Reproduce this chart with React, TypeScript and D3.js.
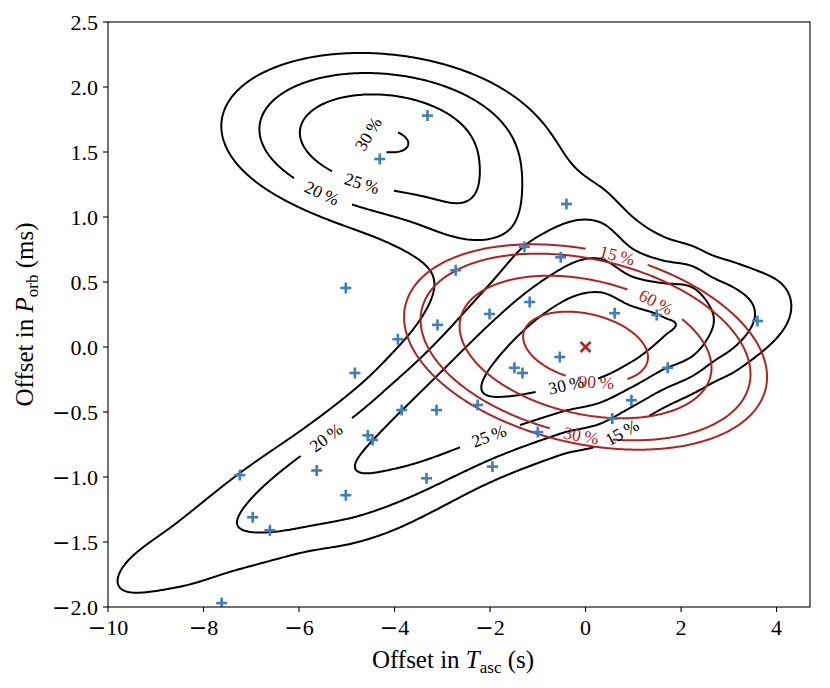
import React, { useMemo } from "react";
import * as d3 from "d3";

// ---------------- data ----------------
const pointsX = [-3.31, -4.31, -0.4, -1.28, -0.52, -2.72, -5.02, -1.17, -2.01, 0.61, 1.49, 3.6, -3.1, -3.93, -0.54, -4.83, -1.49, -1.32, 1.72, 0.96, -3.85, -3.12, -2.26, -1.0, -4.56, -4.46, -1.95, -5.63, -3.33, -5.02, -7.24, -6.97, -6.61, -7.62, 0.56];
const pointsY = [1.78, 1.446, 1.1, 0.77, 0.69, 0.59, 0.454, 0.346, 0.254, 0.26, 0.246, 0.2, 0.17, 0.06, -0.077, -0.2, -0.16, -0.2, -0.16, -0.41, -0.485, -0.485, -0.446, -0.654, -0.68, -0.715, -0.92, -0.95, -1.01, -1.14, -0.985, -1.31, -1.41, -1.97, -0.55];

const xTicks = [-10, -8, -6, -4, -2, 0, 2, 4];
const yTicks = [-2.0, -1.5, -1.0, -0.5, 0.0, 0.5, 1.0, 1.5, 2.0, 2.5];
const xDomain = [-10, 4.7];
const yDomain = [-2.0, 2.5];

// black density: levels (%)
const blackLevels = [15, 20, 25, 30];
// upper blob and bridges: gaussian components
const blobCx = [-4.2, -3.1, -2.4, 0.6];
const blobCy = [1.6, 0.6, 1.05, 0.95];
const blobSx = [2.9, 1.8, 0.7, 0.9];
const blobSy = [0.56, 0.4, 0.22, 0.25];
const blobRho = [-0.15, 0, 0, 0];
const blobAmp = [30.15, 4.3, 3.5, 2.5];
// lower ridge profile
const ridgeX = [-11.5, -9.8, -8.5, -7.3, -6.0, -4.83, -3.9, -2.0, -0.5, 0.3, 1.0, 1.61, 2.18, 2.66, 3.1, 3.53, 4.3, 5.2];
const ridgePeak = [7, 15, 17.6, 20, 23.2, 25, 26.4, 30, 32.6, 33, 31.5, 30, 29, 25, 22.5, 20, 15, 7];
const ridgeMid = [-2.1, -1.8, -1.59, -1.35, -1.12, -0.92, -0.72, -0.3, -0.03, 0.05, 0.08, 0.14, 0.18, 0.2, 0.22, 0.25, 0.31, 0.35];
const ridgeUpperWidth = [0.38, 0.4, 0.45, 0.48, 0.5, 0.58, 0.62, 0.6, 0.62, 0.62, 0.56, 0.51, 0.48, 0.47, 0.46, 0.44, 0.42, 0.4];
const ridgeLowerWidth = [0.38, 0.4, 0.45, 0.48, 0.5, 0.58, 0.63, 0.63, 0.64, 0.64, 0.56, 0.52, 0.48, 0.47, 0.46, 0.44, 0.42, 0.4];

// black contour labels: level and approximate location
const blackLabelLevel = [30, 25, 20, 20, 25, 30, 15];
const blackLabelX = [-4.62, -4.67, -5.56, -5.5, -2.0, -0.4, 0.67];
const blackLabelY = [1.67, 1.26, 1.17, -0.66, -0.715, -0.28, -0.6];

// red ellipses (centered on origin)
const redCenter = [0, 0];
const redSigmaX = 3.8;
const redSigmaY = 0.79;
const redRho = -0.291;
const redLevels = [15, 30, 60, 90];
const redRadius = [1.0, 0.909, 0.694, 0.344];
const redLabelLevel = [15, 60, 30, 90];
const redLabelX = [0.67, 1.49, -0.08, 0.23];
const redLabelY = [0.73, 0.36, -0.68, -0.27];

// ---------------- layout ----------------
const W = 830, H = 688;
const L = 108, R = 810, T = 22, B = 607;
const FONT = "'Liberation Serif', 'DejaVu Serif', serif";
const TICK_FS = 22;
const AXLABEL_FS = 25;
const LABEL_FS = 17.5;
const BLUE = "#3d7ebc";
const RED = "#b22222";

type Pt = [number, number];

function hermite(xs: number[], ys: number[]) {
  const n = xs.length;
  const m = ys.map((_, i) => {
    if (i === 0) return (ys[1] - ys[0]) / (xs[1] - xs[0]);
    if (i === n - 1) return (ys[n - 1] - ys[n - 2]) / (xs[n - 1] - xs[n - 2]);
    return (ys[i + 1] - ys[i - 1]) / (xs[i + 1] - xs[i - 1]);
  });
  return (x: number) => {
    if (x <= xs[0]) return ys[0] + m[0] * (x - xs[0]);
    if (x >= xs[n - 1]) return ys[n - 1] + m[n - 1] * (x - xs[n - 1]);
    const i = Math.min(n - 2, d3.bisectRight(xs, x) - 1);
    const h = xs[i + 1] - xs[i];
    const t = (x - xs[i]) / h, t2 = t * t, t3 = t2 * t;
    return (2 * t3 - 3 * t2 + 1) * ys[i] + (t3 - 2 * t2 + t) * h * m[i] + (-2 * t3 + 3 * t2) * ys[i + 1] + (t3 - t2) * h * m[i + 1];
  };
}

const peakF = hermite(ridgeX, ridgePeak);
const midF = hermite(ridgeX, ridgeMid);
const upF = hermite(ridgeX, ridgeUpperWidth);
const loF = hermite(ridgeX, ridgeLowerWidth);

function density(xd: number, yd: number) {
  let v = 0;
  for (let k = 0; k < blobAmp.length; k++) {
    const u = (xd - blobCx[k]) / blobSx[k];
    const w = (yd - blobCy[k]) / blobSy[k];
    const r = blobRho[k];
    const q = (u * u - 2 * r * u * w + w * w) / (1 - r * r);
    v += blobAmp[k] * Math.exp(-q / 2);
  }
  const P = Math.max(0, peakF(xd));
  const dy = yd - midF(xd);
  const s = Math.max(0.1, dy > 0 ? upF(xd) : loF(xd));
  v += P * Math.exp(-(dy * dy) / (2 * s * s));
  return v;
}

function fmtLabel(v: number) {
  return `${v}\u2009%`;
}

function labelHalf(text: string) {
  return (text.length - 1) * LABEL_FS * 0.5 * 0.95 + 6;
}

type LabelOut = { x: number; y: number; angle: number; text: string };

function cutRings(rings: Pt[][], labels: { px: number; py: number; text: string }[]) {
  const assign: { ring: number; idx: number; half: number; text: string }[] = [];
  labels.forEach((lb) => {
    let best = Infinity, br = -1, bi = -1;
    rings.forEach((ring, r) => {
      ring.forEach((p, i) => {
        const d = (p[0] - lb.px) ** 2 + (p[1] - lb.py) ** 2;
        if (d < best) { best = d; br = r; bi = i; }
      });
    });
    if (br >= 0) assign.push({ ring: br, idx: bi, half: labelHalf(lb.text), text: lb.text });
  });
  const paths: Pt[][] = [];
  const texts: LabelOut[] = [];
  rings.forEach((ring0, r) => {
    let ring = ring0.slice();
    const first = ring[0], last = ring[ring.length - 1];
    if (ring.length > 1 && first[0] === last[0] && first[1] === last[1]) ring = ring.slice(0, -1);
    const n = ring.length;
    const s: number[] = [0];
    for (let i = 1; i < n; i++) s.push(s[i - 1] + Math.hypot(ring[i][0] - ring[i - 1][0], ring[i][1] - ring[i - 1][1]));
    const total = s[n - 1] + Math.hypot(ring[0][0] - ring[n - 1][0], ring[0][1] - ring[n - 1][1]);
    const mine = assign.filter((a) => a.ring === r);
    if (mine.length === 0) {
      paths.push([...ring, ring[0]]);
      return;
    }
    const pointAt = (arc: number): Pt => {
      const a = ((arc % total) + total) % total;
      let i = d3.bisectRight(s, a) - 1;
      if (i < 0) i = 0;
      const j = (i + 1) % n;
      const segLen = (i + 1 < n ? s[i + 1] : total) - s[i];
      const t = segLen > 0 ? (a - s[i]) / segLen : 0;
      return [ring[i][0] + (ring[j][0] - ring[i][0]) * t, ring[i][1] + (ring[j][1] - ring[i][1]) * t];
    };
    mine.forEach((a) => {
      const s0 = s[a.idx];
      const p1 = pointAt(s0 - a.half), p2 = pointAt(s0 + a.half);
      let ang = (Math.atan2(p2[1] - p1[1], p2[0] - p1[0]) * 180) / Math.PI;
      if (ang > 90) ang -= 180;
      if (ang < -90) ang += 180;
      const c = ring[a.idx];
      texts.push({ x: c[0], y: c[1], angle: ang, text: a.text });
    });
    const removed = (i: number) =>
      mine.some((a) => {
        const d = Math.abs(s[i] - s[a.idx]);
        return Math.min(d, total - d) < a.half;
      });
    const segs: Pt[][] = [];
    let cur: Pt[] = [];
    for (let i = 0; i < n; i++) {
      if (removed(i)) {
        if (cur.length) segs.push(cur);
        cur = [];
      } else cur.push(ring[i]);
    }
    if (cur.length) segs.push(cur);
    if (segs.length > 1 && !removed(0) && !removed(n - 1)) {
      const lastSeg = segs.pop()!;
      segs[0] = [...lastSeg, ...segs[0]];
    }
    segs.forEach((sg) => { if (sg.length > 1) paths.push(sg); });
  });
  return { paths, texts };
}

function compute() {
  const xs = d3.scaleLinear().domain(xDomain).range([L, R]);
  const ys = d3.scaleLinear().domain(yDomain).range([B, T]);
  const step = 2;
  const x0 = L - 10, y0 = T - 10;
  const nx = Math.ceil((R - L + 20) / step) + 1;
  const ny = Math.ceil((B - T + 20) / step) + 1;
  const values = new Float64Array(nx * ny);
  for (let j = 0; j < ny; j++) {
    const yd = ys.invert(y0 + j * step);
    for (let i = 0; i < nx; i++) {
      values[j * nx + i] = density(xs.invert(x0 + i * step), yd);
    }
  }
  const gen = d3.contours().size([nx, ny]).thresholds(blackLevels);
  const polys = gen(Array.from(values));
  const blackPaths: Pt[][] = [];
  const blackTexts: LabelOut[] = [];
  polys.forEach((poly) => {
    const rings: Pt[][] = [];
    poly.coordinates.forEach((polygon) =>
      polygon.forEach((ring) =>
        rings.push(ring.map((c) => [x0 + (c[0] - 0.5) * step, y0 + (c[1] - 0.5) * step] as Pt))
      )
    );
    const labels = blackLabelLevel
      .map((lv, k) => ({ lv, px: xs(blackLabelX[k]), py: ys(blackLabelY[k]), text: fmtLabel(lv) }))
      .filter((l) => l.lv === poly.value);
    const res = cutRings(rings, labels);
    blackPaths.push(...res.paths);
    blackTexts.push(...res.texts);
  });

  const redPaths: Pt[][] = [];
  const redTexts: LabelOut[] = [];
  redLevels.forEach((lv, k) => {
    const r = redRadius[k];
    const ring: Pt[] = d3.range(0, 720).map((i) => {
      const t = (i / 720) * 2 * Math.PI;
      const dx = r * redSigmaX * Math.cos(t);
      const dy = r * redSigmaY * (redRho * Math.cos(t) + Math.sqrt(1 - redRho * redRho) * Math.sin(t));
      return [xs(redCenter[0] + dx), ys(redCenter[1] + dy)];
    });
    const labels = redLabelLevel
      .map((l, j) => ({ l, px: xs(redLabelX[j]), py: ys(redLabelY[j]), text: fmtLabel(l) }))
      .filter((d) => d.l === lv);
    const res = cutRings([ring], labels);
    redPaths.push(...res.paths);
    redTexts.push(...res.texts);
  });
  return { xs, ys, blackPaths, blackTexts, redPaths, redTexts };
}

const MINUS_FONT = "'DejaVu Serif', serif";

function NumText(props: { v: string }) {
  const neg = props.v.startsWith("-");
  const body = neg ? props.v.slice(1) : props.v;
  return (
    <>
      {neg && <tspan fontFamily={MINUS_FONT} fontWeight={300}>{"\u2212"}</tspan>}
      <tspan>{body}</tspan>
    </>
  );
}

export default function App() {
  const { xs, ys, blackPaths, blackTexts, redPaths, redTexts } = useMemo(compute, []);
  const line = d3.line<Pt>().x((d) => d[0]).y((d) => d[1]);
  const fmtY = (v: number) => (v < 0 ? "-" : "") + Math.abs(v).toFixed(1);
  const fmtX = (v: number) => (v < 0 ? "-" : "") + Math.abs(v).toString();
  return (
    <svg width={W} height={H} style={{ position: "absolute", left: 0, top: 0, background: "#fff" }} fontFamily={FONT}>
      <defs>
        <clipPath id="plotclip">
          <rect x={L} y={T} width={R - L} height={B - T} />
        </clipPath>
      </defs>
      <rect x={0} y={0} width={W} height={H} fill="#fff" />
      <g clipPath="url(#plotclip)">
        {blackPaths.map((p, i) => (
          <path key={"b" + i} d={line(p) || ""} fill="none" stroke="#000" strokeWidth={2} strokeLinejoin="round" />
        ))}
        {redPaths.map((p, i) => (
          <path key={"r" + i} d={line(p) || ""} fill="none" stroke={RED} strokeWidth={2} strokeLinejoin="round" />
        ))}
        {blackTexts.map((t, i) => (
          <text key={"bt" + i} x={t.x} y={t.y} transform={`rotate(${t.angle},${t.x},${t.y})`} textAnchor="middle" dominantBaseline="central" fontSize={LABEL_FS} fill="#000">{t.text}</text>
        ))}
        {redTexts.map((t, i) => (
          <text key={"rt" + i} x={t.x} y={t.y} transform={`rotate(${t.angle},${t.x},${t.y})`} textAnchor="middle" dominantBaseline="central" fontSize={LABEL_FS} fill={RED}>{t.text}</text>
        ))}
        {pointsX.map((px, i) => {
          const cx = xs(px), cy = ys(pointsY[i]);
          return (
            <g key={"p" + i} stroke={BLUE} strokeWidth={2.6}>
              <line x1={cx - 5.5} x2={cx + 5.5} y1={cy} y2={cy} />
              <line x1={cx} x2={cx} y1={cy - 5.5} y2={cy + 5.5} />
            </g>
          );
        })}
        <g stroke={RED} strokeWidth={2.6}>
          <line x1={xs(redCenter[0]) - 5} x2={xs(redCenter[0]) + 5} y1={ys(redCenter[1]) - 5} y2={ys(redCenter[1]) + 5} />
          <line x1={xs(redCenter[0]) - 5} x2={xs(redCenter[0]) + 5} y1={ys(redCenter[1]) + 5} y2={ys(redCenter[1]) - 5} />
        </g>
      </g>
      <rect x={L} y={T} width={R - L} height={B - T} fill="none" stroke="#000" strokeWidth={1.1} />
      {xTicks.map((t) => (
        <g key={"xt" + t}>
          <line x1={xs(t)} x2={xs(t)} y1={B} y2={B + 5} stroke="#000" strokeWidth={1.1} />
          <text x={xs(t)} y={B + 28} textAnchor="middle" fontSize={TICK_FS}><NumText v={fmtX(t)} /></text>
        </g>
      ))}
      {yTicks.map((t) => (
        <g key={"yt" + t}>
          <line x1={L - 5} x2={L} y1={ys(t)} y2={ys(t)} stroke="#000" strokeWidth={1.1} />
          <text x={L - 10} y={ys(t)} textAnchor="end" dominantBaseline="central" fontSize={TICK_FS}><NumText v={fmtY(t)} /></text>
        </g>
      ))}
      <text x={453} y={668} textAnchor="middle" fontSize={AXLABEL_FS}>
        Offset in <tspan fontStyle="italic">T</tspan>
        <tspan fontSize={17} dy={5}>asc</tspan>
        <tspan dy={-5}> (s)</tspan>
      </text>
      <text transform={`translate(33,${(T + B) / 2}) rotate(-90)`} textAnchor="middle" fontSize={AXLABEL_FS}>
        Offset in <tspan fontStyle="italic">P</tspan>
        <tspan fontSize={17} dy={5}>orb</tspan>
        <tspan dy={-5}> (ms)</tspan>
      </text>
    </svg>
  );
}
